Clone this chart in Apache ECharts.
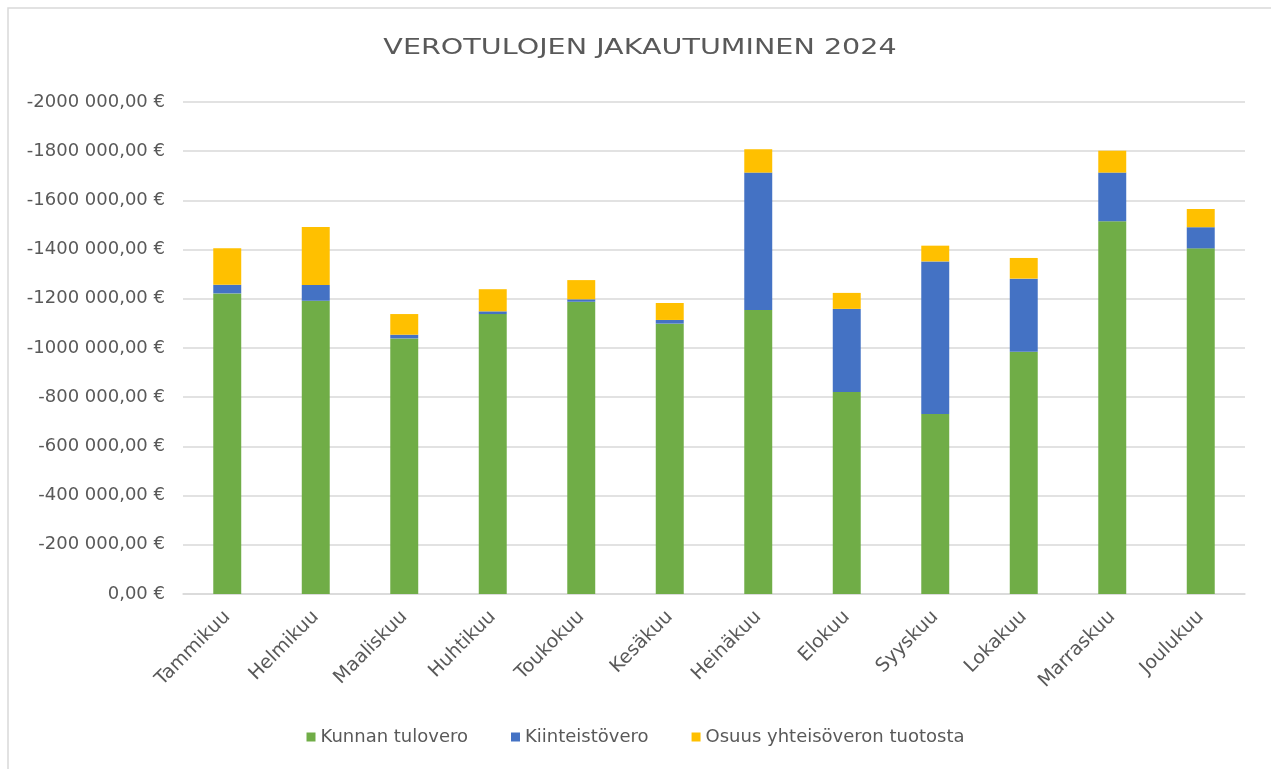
<!DOCTYPE html>
<html>
<head>
<meta charset="utf-8">
<script src="https://cdn.jsdelivr.net/npm/echarts@6/dist/echarts.min.js"></script>
<style>
  html, body { margin: 0; padding: 0; background: #fff; }
  #main { width: 1271px; height: 769px; }
</style>
</head>
<body>
<div id="main"></div>
<script>
// kuukaudet
var months = ['Tammikuu', 'Helmikuu', 'Maaliskuu', 'Huhtikuu', 'Toukokuu', 'Kesäkuu',
              'Heinäkuu', 'Elokuu', 'Syyskuu', 'Lokakuu', 'Marraskuu', 'Joulukuu'];
// verotulot (negatiivisina kuten alkuperäisessä)
var tulovero = [-1222000, -1192000, -1039000, -1138000, -1188000, -1099000,
                -1154000, -821000, -732000, -985000, -1515000, -1405000];
var kiinteistovero = [-35000, -64000, -15000, -11000, -10000, -15000,
                      -559000, -338000, -620000, -297000, -198000, -86000];
var yhteisovero = [-148000, -236000, -84000, -90000, -78000, -69000,
                   -95000, -65000, -64000, -84000, -89000, -74000];
var seriesNames = ['Kunnan tulovero', 'Kiinteistövero', 'Osuus yhteisöveron tuotosta'];
var chartTitle = 'VEROTULOJEN JAKAUTUMINEN 2024';

var FONT = '"DejaVu Sans", sans-serif';

function euro(v) {
  var neg = v < 0;
  var n = Math.abs(v);
  var s = '';
  if (n >= 1000) {
    var th = Math.floor(n / 1000);
    var rest = String(n % 1000);
    while (rest.length < 3) rest = '0' + rest;
    s = th + ' ' + rest;
  } else {
    s = String(n);
  }
  return (neg ? '-' : '') + s + ',00 €';
}

var chart = echarts.init(document.getElementById('main'));
chart.setOption({
  backgroundColor: '#fff',
  animation: false,
  textStyle: { fontFamily: FONT },
  graphic: [{
    type: 'rect',
    shape: { x: 8, y: 8, width: 1300, height: 800 },
    style: { fill: 'none', stroke: '#d9d9d9', lineWidth: 1.5 },
    silent: true
  }, {
    // otsikko hieman venytettynä kuten Excelin kuvassa
    type: 'text',
    x: 640,
    y: 48,
    scaleX: 1.3,
    style: {
      text: chartTitle,
      x: 0, y: 0,
      align: 'center',
      verticalAlign: 'middle',
      fill: '#595959',
      font: '22px "DejaVu Sans", sans-serif'
    },
    silent: true
  }],
  legend: {
    data: seriesNames,
    bottom: 18,
    left: 'center',
    itemWidth: 9,
    itemHeight: 9,
    itemGap: 43,
    icon: 'rect',
    textStyle: { color: '#595959', fontSize: 18, fontFamily: FONT }
  },
  grid: { left: 183, right: 26, top: 102, bottom: 175 },
  xAxis: {
    type: 'category',
    data: months,
    axisLine: { lineStyle: { color: '#d9d9d9', width: 1.5 } },
    axisTick: { show: false },
    axisLabel: { color: '#595959', fontSize: 19, rotate: 45, margin: 20, interval: 0 }
  },
  yAxis: {
    type: 'value',
    inverse: true,
    min: -2000000,
    max: 0,
    interval: 200000,
    axisLine: { show: false },
    axisTick: { show: false },
    splitLine: { lineStyle: { color: '#d9d9d9', width: 1.5 } },
    axisLabel: { color: '#595959', fontSize: 18, margin: 18, formatter: euro }
  },
  series: [
    { name: seriesNames[0], type: 'bar', stack: 'vero', barWidth: '31.6%',
      itemStyle: { color: '#70ad47' }, data: tulovero },
    { name: seriesNames[1], type: 'bar', stack: 'vero',
      itemStyle: { color: '#4472c4' }, data: kiinteistovero },
    { name: seriesNames[2], type: 'bar', stack: 'vero',
      itemStyle: { color: '#ffc000' }, data: yhteisovero }
  ]
});
</script>
</body>
</html>
